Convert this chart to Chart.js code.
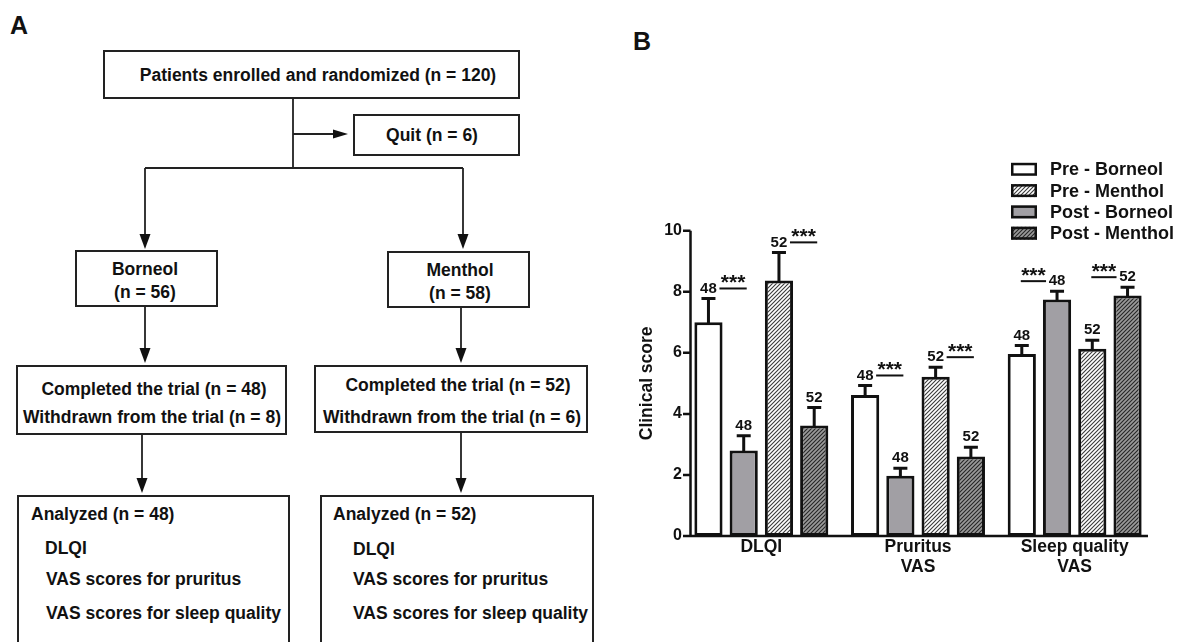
<!DOCTYPE html>
<html>
<head>
<meta charset="utf-8">
<script src="https://cdn.jsdelivr.net/npm/chart.js@4.4.0/dist/chart.umd.min.js"></script>
<style>
html,body{margin:0;padding:0;background:#fff;width:1178px;height:642px;overflow:hidden;}
#flow{position:absolute;left:0;top:0;}
#wrap{position:absolute;left:600px;top:0;width:578px;height:642px;}
</style>
</head>
<body>
<svg id="flow" width="600" height="642" font-family="Liberation Sans, Arial, sans-serif" font-weight="bold" font-size="17.5">
  <text x="10" y="34" font-size="25" fill="#111">A</text>
  <g fill="none" stroke="#222" stroke-width="2">
    <rect x="104" y="51" width="415" height="47"/>
    <rect x="354" y="115" width="165" height="40"/>
    <rect x="76" y="251" width="141" height="55"/>
    <rect x="388" y="252" width="141" height="55"/>
    <rect x="17" y="366" width="269" height="68"/>
    <rect x="315" y="366" width="272" height="66"/>
    <rect x="18" y="496" width="271" height="170"/>
    <rect x="321" y="496" width="272" height="170"/>
    <path stroke-width="1.8" d="M293 98 V168 M293 134 H334 M145 168 H463 M145 168 V235 M463 168 V235 M145 306 V349 M461 307 V349 M142 434 V479 M461 432 V479"/>
  </g>
  <g fill="#111" stroke="none">
    <polygon points="333,129.5 333,138.5 348,134"/>
    <polygon points="139.5,234 150.5,234 145,249"/>
    <polygon points="457.5,234 468.5,234 463,249"/>
    <polygon points="139.5,348 150.5,348 145,363"/>
    <polygon points="455.5,348 466.5,348 461,363"/>
    <polygon points="136.5,478 147.5,478 142,493"/>
    <polygon points="455.5,478 466.5,478 461,493"/>
  </g>
  <g fill="#111" dominant-baseline="central" text-anchor="middle">
    <text x="318" y="75">Patients enrolled and randomized (n = 120)</text>
    <text x="432" y="135">Quit (n = 6)</text>
    <text x="145" y="269">Borneol</text>
    <text x="145" y="292">(n = 56)</text>
    <text x="460" y="270">Menthol</text>
    <text x="460" y="293">(n = 58)</text>
    <text x="154" y="389">Completed the trial (n = 48)</text>
    <text x="152" y="417">Withdrawn from the trial (n = 8)</text>
    <text x="458" y="385">Completed the trial (n = 52)</text>
    <text x="452" y="417">Withdrawn from the trial (n = 6)</text>
  </g>
  <g fill="#111" dominant-baseline="central" text-anchor="start">
    <text x="31" y="514">Analyzed (n = 48)</text>
    <text x="45" y="548">DLQI</text>
    <text x="46" y="579">VAS scores for pruritus</text>
    <text x="46" y="613">VAS scores for sleep quality</text>
    <text x="333" y="514">Analyzed (n = 52)</text>
    <text x="353" y="549">DLQI</text>
    <text x="353" y="579">VAS scores for pruritus</text>
    <text x="353" y="613">VAS scores for sleep quality</text>
  </g>
</svg>
<svg style="position:absolute;left:600px;top:0" width="80" height="70" font-family="Liberation Sans, Arial, sans-serif" font-weight="bold">
  <text x="33" y="50" font-size="25" fill="#111">B</text>
</svg>
<div id="wrap"><canvas id="c" width="578" height="642"></canvas></div>
<script>
// ---- data ----
const categories = [['DLQI'], ['Pruritus', 'VAS'], ['Sleep quality', 'VAS']];
const seriesLabels = ['Pre - Borneol', 'Post - Borneol', 'Pre - Menthol', 'Post - Menthol'];
const preBorneol  = [7.00, 4.62, 5.96];
const postBorneol = [2.80, 1.97, 7.75];
const preMenthol  = [8.37, 5.22, 6.13];
const postMenthol = [3.62, 2.60, 7.88];
const sePreBorneol  = [0.78, 0.31, 0.28];
const sePostBorneol = [0.48, 0.25, 0.27];
const sePreMenthol  = [0.92, 0.31, 0.28];
const sePostMenthol = [0.59, 0.31, 0.27];
const nPreBorneol  = ['48', '48', '48'];
const nPostBorneol = ['48', '48', '48'];
const nPreMenthol  = ['52', '52', '52'];
const nPostMenthol = ['52', '52', '52'];
const sigBorneol = ['***', '***', '***'];
const sigMenthol = ['***', '***', '***'];
const yTicks = [0, 2, 4, 6, 8, 10];
const legendOrder = [0, 2, 1, 3];

const FONT = '"Liberation Sans", Arial, sans-serif';
const INK = '#111';

function hatch(bg, fg) {
  const s = 4, c = document.createElement('canvas');
  c.width = s; c.height = s;
  const x = c.getContext('2d');
  x.fillStyle = bg; x.fillRect(0, 0, s, s);
  x.strokeStyle = fg; x.lineWidth = 1.1;
  x.beginPath();
  x.moveTo(0, s); x.lineTo(s, 0);
  x.moveTo(-1, 1); x.lineTo(1, -1);
  x.moveTo(s - 1, s + 1); x.lineTo(s + 1, s - 1);
  x.stroke();
  return x.createPattern(c, 'repeat');
}

const seriesValues = [preBorneol, postBorneol, preMenthol, postMenthol];
const seriesSE = [sePreBorneol, sePostBorneol, sePreMenthol, sePostMenthol];
const seriesN = [nPreBorneol, nPostBorneol, nPreMenthol, nPostMenthol];
const fills = ['#ffffff', '#a19fa4', hatch('#ffffff', '#3a3a3a'), hatch('#9a9a9a', '#262626')];

const datasets = seriesLabels.map((l, i) => ({
  label: l, data: seriesValues[i], se: seriesSE[i], n: seriesN[i],
  backgroundColor: fills[i], borderColor: INK, borderWidth: 3, borderSkipped: false,
  categoryPercentage: 0.9, barPercentage: 0.8
}));

const annot = {
  id: 'annot',
  afterDatasetsDraw(chart) {
    const ctx = chart.ctx, ys = chart.scales.y, ca = chart.chartArea;
    const axisX = ca.left + 7.5;
    const y0 = ys.getPixelForValue(0);
    ctx.save();
    ctx.strokeStyle = INK; ctx.fillStyle = INK;
    // error bars + n labels
    ctx.font = 'bold 15px ' + FONT;
    ctx.textAlign = 'center'; ctx.textBaseline = 'middle';
    chart.data.datasets.forEach((ds, i) => {
      chart.getDatasetMeta(i).data.forEach((bar, j) => {
        const top = ys.getPixelForValue(ds.data[j] + ds.se[j]);
        ctx.lineWidth = 3;
        ctx.beginPath();
        ctx.moveTo(bar.x, bar.y + 1); ctx.lineTo(bar.x, top);
        ctx.moveTo(bar.x - 7, top); ctx.lineTo(bar.x + 7, top);
        ctx.stroke();
        ctx.fillText(ds.n[j], bar.x, top - 10);
      });
    });
    // significance marks
    const pairs = [[0, 1, sigBorneol], [2, 3, sigMenthol]];
    pairs.forEach(([a, b, sig]) => {
      const da = chart.data.datasets[a], db = chart.data.datasets[b];
      const ma = chart.getDatasetMeta(a).data, mb = chart.getDatasetMeta(b).data;
      for (let j = 0; j < categories.length; j++) {
        const ta = ys.getPixelForValue(da.data[j] + da.se[j]);
        const tb = ys.getPixelForValue(db.data[j] + db.se[j]);
        const c1 = ma[j].x, c2 = mb[j].x;
        let x1, x2, ly;
        if (ta <= tb) { ly = ta - 10; x1 = c1 + 11; x2 = c2 + 3; }
        else { ly = tb - 10; x1 = c1 - 1; x2 = c2 - 11; }
        ctx.lineWidth = 2;
        ctx.beginPath(); ctx.moveTo(x1, ly); ctx.lineTo(x2, ly); ctx.stroke();
        ctx.font = 'bold 21px ' + FONT;
        ctx.textBaseline = 'alphabetic';
        ctx.fillText(sig[j], (x1 + x2) / 2, ly + 0.5);
      }
    });
    // axes
    ctx.lineWidth = 2.5;
    ctx.beginPath();
    ctx.moveTo(axisX, ys.getPixelForValue(yTicks[yTicks.length - 1]));
    ctx.lineTo(axisX, y0 + 1.25);
    yTicks.forEach(t => { const p = ys.getPixelForValue(t); ctx.moveTo(ca.left, p); ctx.lineTo(axisX, p); });
    ctx.moveTo(axisX, y0); ctx.lineTo(ca.right - 5, y0);
    ctx.stroke();
    ctx.restore();
  },
  afterDraw(chart) {
    const ctx = chart.ctx;
    const lx = 411, ly0 = 169.3, dy = 21.3, bw = 26, bh = 13, tx = 450;
    ctx.save();
    legendOrder.forEach((di, k) => {
      const ds = chart.data.datasets[di];
      const cy = ly0 + k * dy;
      ctx.fillStyle = ds.backgroundColor;
      ctx.fillRect(lx, cy - bh / 2, bw, bh);
      ctx.lineWidth = 2.5; ctx.strokeStyle = INK;
      ctx.strokeRect(lx + 1.25, cy - bh / 2 + 1.25, bw - 2.5, bh - 2.5);
      ctx.fillStyle = INK;
      ctx.font = 'bold 18px ' + FONT;
      ctx.textAlign = 'left'; ctx.textBaseline = 'middle';
      ctx.fillText(ds.label, tx, cy + 1);
    });
    ctx.restore();
  }
};

new Chart(document.getElementById('c'), {
  type: 'bar',
  data: { labels: categories, datasets },
  plugins: [annot],
  options: {
    responsive: false, animation: false, devicePixelRatio: 1,
    layout: { padding: { top: 230.7, left: 30, right: 25, bottom: 26 } },
    plugins: { legend: { display: false }, tooltip: { enabled: false } },
    scales: {
      x: {
        grid: { display: false, drawTicks: false }, border: { display: false },
        ticks: { font: { family: FONT, size: 17.5, weight: 'bold', lineHeight: 1.15 }, color: INK, padding: 1, maxRotation: 0, autoSkip: false },
        afterFit: s => { s.height = 80; }
      },
      y: {
        min: 0, max: 10,
        afterBuildTicks: s => { s.ticks = yTicks.map(v => ({ value: v })); },
        grid: { display: false, drawTicks: false }, border: { display: false },
        ticks: { font: { family: FONT, size: 16, weight: 'bold' }, color: INK, padding: 1 },
        title: { display: true, text: 'Clinical score', color: INK, font: { family: FONT, size: 17.5, weight: 'bold' }, padding: { top: 6.5, bottom: 0 } },
        afterFit: s => { s.width = 53; }
      }
    }
  }
});
</script>
</body>
</html>
